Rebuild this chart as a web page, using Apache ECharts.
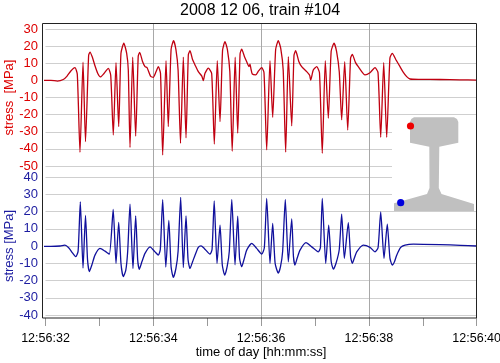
<!DOCTYPE html>
<html>
<head>
<meta charset="utf-8">
<script src="https://cdn.jsdelivr.net/npm/echarts@6/dist/echarts.min.js"></script>
<style>
html,body{margin:0;padding:0;background:#fff;}
#c{width:500px;height:363px;}
</style>
</head>
<body>
<div id="c"></div>
<script>
// time in seconds after 12:56:32
var startLabel = '12:56:32';
var xTickLabels = ['12:56:32','12:56:34','12:56:36','12:56:38','12:56:40'];
var redTime = [-0.065,0.10,0.22,0.33,0.40,0.47,0.547,0.59,0.64,0.696,0.742,0.80,0.826,0.87,0.918,0.97,1.02,1.085,1.165,1.21,1.258,1.308,1.358,1.40,1.453,1.506,1.536,1.568,1.618,1.673,1.72,1.748,1.80,1.846,1.883,1.948,2.0,2.05,2.093,2.134,2.174,2.236,2.278,2.33,2.375,2.42,2.46,2.505,2.557,2.607,2.65,2.681,2.73,2.774,2.835,2.9,2.928,2.959,3.02,3.083,3.132,3.187,3.238,3.285,3.33,3.375,3.42,3.464,3.519,3.566,3.61,3.64,3.69,3.733,3.776,3.794,3.813,3.837,3.9,3.952,4.011,4.054,4.104,4.165,4.215,4.27,4.319,4.365,4.41,4.456,4.505,4.568,4.61,4.642,4.70,4.753,4.846,4.90,4.92,4.968,5.032,5.083,5.135,5.191,5.247,5.30,5.353,5.40,5.45,5.495,5.551,5.607,5.66,5.692,5.75,5.803,5.928,6.02,6.113,6.169,6.219,6.275,6.33,6.39,6.434,6.503,6.577,6.633,6.701,6.763,6.948,7.319,7.69,8.0];
var redStress = [0,0,-0.4,0.5,2.5,5.5,7.4,3.5,-42,10.6,-35.8,14.5,16.5,13.5,8.5,4,2,4,7,3,-31.9,10.3,-27,15.8,21.7,15.8,6,-39.2,13.5,-32.5,14,16.4,11,8,7.5,2.5,1.8,5,8,4,-43.6,11.5,-27,18,23.2,18,6,-36.8,13.6,-33.6,15,17.3,12,9,5.1,2.5,-0.2,4.1,7.1,4,-37.2,11.5,-24.1,17.5,22.6,18,5,-41.4,13.5,-30.8,15.5,18.2,14,10.9,8,9.5,6.5,3.7,3.2,5.5,7.4,4.5,-40.6,11.5,-21.6,18,23.2,18.5,6,-41.9,13.8,-26.6,14.5,17.3,11,8,5.1,3,0.2,6,8,4.5,-42.6,11.5,-22.1,17,21.7,17,5,-23.1,10.9,-29,13,15.2,10.5,8,3.2,4.5,7.4,4.5,-33.2,10.3,-33.2,13,15.8,12,8,5,2.2,0.8,0.6,0.5,0.3,0.2];
var blueTime = [-0.065,0.10,0.27,0.36,0.43,0.486,0.56,0.605,0.646,0.696,0.742,0.78,0.813,0.86,0.918,1.011,1.104,1.184,1.256,1.308,1.358,1.40,1.443,1.49,1.525,1.568,1.623,1.673,1.71,1.74,1.79,1.846,1.939,2.032,2.093,2.13,2.174,2.232,2.288,2.33,2.371,2.42,2.46,2.508,2.557,2.607,2.645,2.681,2.73,2.774,2.835,2.885,2.946,3.052,3.09,3.13,3.182,3.238,3.28,3.325,3.37,3.41,3.456,3.516,3.566,3.60,3.64,3.69,3.733,3.826,3.918,4.011,4.06,4.104,4.165,4.215,4.26,4.319,4.36,4.40,4.449,4.505,4.568,4.60,4.629,4.67,4.722,4.833,4.939,5.061,5.10,5.135,5.199,5.254,5.30,5.34,5.39,5.45,5.495,5.544,5.618,5.66,5.692,5.73,5.774,5.896,6.02,6.113,6.17,6.219,6.28,6.341,6.39,6.434,6.476,6.516,6.59,6.67,6.824,7.319,7.7,8.0];
var blueStress = [-0.2,-0.2,0,0.5,-1,-3.4,-6.2,-3,25.6,-12.8,17.7,-8,-14.9,-11,-5.3,-1.4,-3,-4.7,21.2,-10.1,13.7,-10,-17.8,-14,-3,24.2,-13,17.5,-8,-13.5,-9,-4.3,-0.5,-3.4,-5.3,-2,26.8,-12.2,14.8,-12,-18.2,-13,-3,28.2,-12.5,17.4,-8,-13,-9,-5.3,-0.8,0.1,-1.4,-4.7,-2,26.1,-10.1,12.1,-11,-16.9,-12,-3,27,-10.9,17.3,-7,-12,-7,-2.4,1.5,-1.4,-4.7,-1,27.6,-10.1,13.1,-10,-15.7,-12,-3,27,-9.2,15.7,-6,-11,-7,-2.4,1.9,-0.5,-3.4,-1,27.6,-10.1,12.1,-9,-13.4,-10,-2,18.5,-7.2,13.5,-6,-10.1,-7,-3.4,0.5,-0.8,-3.4,-1,19.8,-7.2,12.7,-7,-11.1,-9,-5.3,-0.8,0.5,1.1,0.8,0.4,0];
var redTicks = [30,20,10,0,-10,-20,-30,-40,-50];
var blueTicks = [40,30,20,10,0,-10,-20,-30,-40];

function pairs(t, v){ return t.map(function(x,i){ return [x, v[i]]; }); }
function fmtTime(v){
  var p = startLabel.split(':').map(Number);
  var s = p[0]*3600 + p[1]*60 + p[2] + Math.round(v);
  var hh = Math.floor(s/3600), mm = Math.floor((s%3600)/60), ss = s%60;
  function z(n){ return (n<10?'0':'') + n; }
  return z(hh)+':'+z(mm)+':'+z(ss);
}

var RED = '#dd0000', BLUE = '#1c1ca0';
var FONT = 'Liberation Sans, Arial, sans-serif';
var L = 45.5, R = 23.3;

var chart = echarts.init(document.getElementById('c'), null, {renderer:'canvas'});
chart.setOption({
  animation: false,
  backgroundColor: '#fff',
  title: {
    text: '2008 12 06, train #104',
    left: 180, top: 3, padding: 0,
    textStyle: {fontFamily: FONT, fontSize: 16, fontWeight: 'normal', color: '#000'}
  },
  grid: [
    {left: L, right: R, top: 29, height: 137, outerBoundsMode: 'none'},
    {left: L, right: R, top: 177, height: 138, outerBoundsMode: 'none'},
    {left: L, right: R, top: 23, height: 295, outerBoundsMode: 'none'}
  ],
  xAxis: [
    {gridIndex: 0, type: 'value', min: 0, max: 8, show: false},
    {gridIndex: 1, type: 'value', min: 0, max: 8, show: false},
    {gridIndex: 2, type: 'value', min: 0, max: 8, interval: 2,
     axisLine: {show: false},
     axisTick: {show: true, length: 8, lineStyle: {color: '#999'}},
     minorTick: {show: true, splitNumber: 2, length: 8, lineStyle: {color: '#999'}},
     splitLine: {show: true, showMinLine: false, showMaxLine: false, lineStyle: {color: '#a8a8a8', width: 1}},
     axisLabel: {margin: 14, fontFamily: FONT, fontSize: 12.5, color: '#000',
       formatter: function(v){ return fmtTime(v); }},
     name: 'time of day [hh:mm:ss]', nameLocation: 'middle', nameGap: 28, nameMoveOverlap: false,
     nameTextStyle: {fontFamily: FONT, fontSize: 13, color: '#000'}
    }
  ],
  yAxis: [
    {gridIndex: 0, type: 'value', min: -50, max: 30, interval: 10,
     axisLine: {show: false},
     axisTick: {show: false},
     splitLine: {show: true, lineStyle: {color: '#cfcfcf'}},
     axisLabel: {margin: 7.5, fontFamily: FONT, fontSize: 13, color: RED},
     name: 'stress  [MPa]', nameLocation: 'middle', nameGap: 30, nameMoveOverlap: false,
     nameTextStyle: {fontFamily: FONT, fontSize: 13, color: RED}
    },
    {gridIndex: 1, type: 'value', min: -40, max: 40, interval: 10,
     axisLine: {show: false},
     axisTick: {show: false},
     splitLine: {show: true, lineStyle: {color: '#cfcfcf'}},
     axisLabel: {margin: 7.5, fontFamily: FONT, fontSize: 13, color: BLUE},
     name: 'stress [MPa]', nameLocation: 'middle', nameGap: 30, nameMoveOverlap: false,
     nameTextStyle: {fontFamily: FONT, fontSize: 13, color: BLUE}
    },
    {gridIndex: 2, type: 'value', min: 0, max: 1, show: false}
  ],
  series: [
    {type: 'line', xAxisIndex: 0, yAxisIndex: 0, data: pairs(redTime, redStress),
     showSymbol: false, smooth: 0.2, clip: false,
     lineStyle: {color: '#c00010', width: 1.3}},
    {type: 'line', xAxisIndex: 1, yAxisIndex: 1, data: pairs(blueTime, blueStress),
     showSymbol: false, smooth: 0.2, clip: false,
     lineStyle: {color: '#10109c', width: 1.3}}
  ],
  graphic: [
    {type: 'rect', z: 100, shape: {x: 392, y: 116, width: 84, height: 95}, style: {fill: '#fff'}},
    {type: 'polygon', z: 101, shape: {points: [
      [414,117.3],[454,117.3],[457,119],[458.3,122],[458.3,142.7],[439.3,146.7],[438.8,188],[441.5,194],
      [474,204],[474,211],[394,211],[394,203.3],[427,194],[429.5,188],[429.3,146.7],[410,142.7],[410,122],[411.3,119]
    ]}, style: {fill: '#c0c0c0'}},
    {type: 'circle', z: 102, shape: {cx: 410.5, cy: 126, r: 3.6}, style: {fill: '#ee0000'}},
    {type: 'circle', z: 102, shape: {cx: 400.7, cy: 202.7, r: 3.6}, style: {fill: '#0000dd'}},
    {type: 'rect', z: 103, shape: {x: 42.5, y: 23.5, width: 434, height: 294.5}, style: {fill: 'none', stroke: '#222', lineWidth: 1}}
  ]
});
</script>
</body>
</html>
